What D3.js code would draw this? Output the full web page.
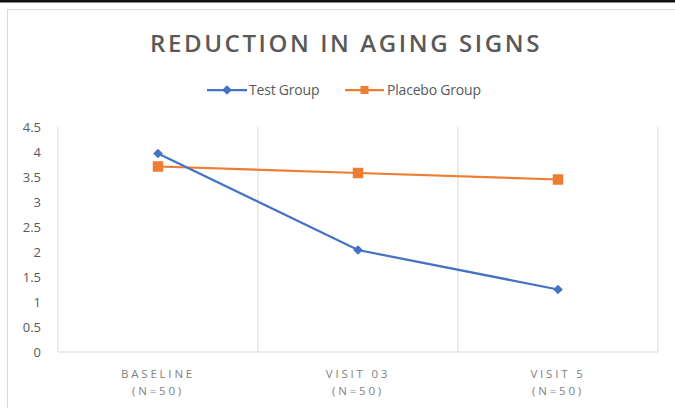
<!DOCTYPE html>
<html>
<head>
<meta charset="utf-8">
<script src="https://cdn.jsdelivr.net/npm/d3@7"></script>
<style>
  body { margin: 0; background: #fff; }
  text { font-family: "Open Sans", sans-serif; }
</style>
</head>
<body>
<div id="chart"></div>
<script>
var w = 675;
var h = 408;

var categories = ["BASELINE", "VISIT 03", "VISIT 5"];
var subLabels = ["(N=50)", "(N=50)", "(N=50)"];
var testGroup = [3.97, 2.04, 1.25];
var placeboGroup = [3.71, 3.58, 3.45];
var yTicks = [0, 0.5, 1, 1.5, 2, 2.5, 3, 3.5, 4, 4.5];

var margin = {left: 58, right: 17, top: 127, bottom: 56};

var svg = d3.select("#chart")
    .append("svg")
    .attr("width", w)
    .attr("height", h);

// top black rule and chart frame
svg.append("rect").attr("x", 0).attr("y", 0).attr("width", w).attr("height", 2.5).attr("fill", "#111");
svg.append("rect")
    .attr("x", 7.5).attr("y", 9.5)
    .attr("width", w).attr("height", h)
    .attr("fill", "none")
    .attr("stroke", "#d9d9d9");

var x = d3.scaleBand()
    .domain(categories)
    .range([margin.left, w - margin.right]);

var y = d3.scaleLinear()
    .domain([0, 4.5])
    .range([h - margin.bottom, margin.top]);

// vertical gridlines at category boundaries
var bounds = categories.map(function (c) { return x(c); }).concat([x(categories[categories.length - 1]) + x.bandwidth()]);
svg.selectAll("line.grid")
    .data(bounds)
    .enter()
    .append("line")
    .attr("class", "grid")
    .attr("x1", function (d) { return d; })
    .attr("x2", function (d) { return d; })
    .attr("y1", y(4.5))
    .attr("y2", y(0))
    .attr("stroke", "#d9d9d9")
    .attr("stroke-width", 1);

// x axis line
svg.append("line")
    .attr("x1", margin.left).attr("x2", w - margin.right)
    .attr("y1", y(0)).attr("y2", y(0))
    .attr("stroke", "#d9d9d9");

// y axis labels
var yAxis = d3.axisLeft(y).tickValues(yTicks).tickSize(0).tickPadding(17)
    .tickFormat(function (d) { return String(d); });
var gy = svg.append("g").attr("transform", "translate(" + margin.left + ",0)").call(yAxis);
gy.select(".domain").remove();
gy.selectAll("text")
    .style("font-family", "'Open Sans', sans-serif")
    .style("font-size", "13px")
    .attr("fill", "#595959");

// x category labels
var gx = svg.append("g");
gx.selectAll("text.cat")
    .data(categories)
    .enter()
    .append("text")
    .attr("x", function (d) { return x(d) + x.bandwidth() / 2; })
    .attr("y", 378)
    .attr("text-anchor", "middle")
    .attr("fill", "#7f7f7f")
    .style("font-size", "11.5px")
    .style("letter-spacing", "2.8px")
    .text(function (d) { return d; });
gx.selectAll("text.sub")
    .data(subLabels)
    .enter()
    .append("text")
    .attr("x", function (d, i) { return x(categories[i]) + x.bandwidth() / 2; })
    .attr("y", 395)
    .attr("text-anchor", "middle")
    .attr("fill", "#7f7f7f")
    .style("font-size", "11.5px")
    .style("letter-spacing", "2.8px")
    .text(function (d) { return d; });

// title
svg.append("text")
    .attr("x", 346)
    .attr("y", 52)
    .attr("text-anchor", "middle")
    .attr("fill", "#595959")
    .style("font-size", "24px")
    .style("font-weight", "600")
    .style("letter-spacing", "2.6px")
    .text("REDUCTION IN AGING SIGNS");

var line = d3.line()
    .x(function (d, i) { return x(categories[i]) + x.bandwidth() / 2; })
    .y(function (d) { return y(d); });

var blue = "#4472c4";
var orange = "#ed7d31";

svg.append("path").datum(placeboGroup).attr("d", line)
    .attr("fill", "none").attr("stroke", orange).attr("stroke-width", 2.25);
svg.append("path").datum(testGroup).attr("d", line)
    .attr("fill", "none").attr("stroke", blue).attr("stroke-width", 2.25);

var diamond = d3.symbol().type(d3.symbolDiamond2).size(60);
var square = d3.symbol().type(d3.symbolSquare).size(110);

svg.selectAll("path.sq")
    .data(placeboGroup)
    .enter()
    .append("path")
    .attr("class", "sq")
    .attr("d", square)
    .attr("transform", function (d, i) {
        return "translate(" + (x(categories[i]) + x.bandwidth() / 2) + "," + y(d) + ")";
    })
    .attr("fill", orange);

svg.selectAll("path.dm")
    .data(testGroup)
    .enter()
    .append("path")
    .attr("class", "dm")
    .attr("d", diamond)
    .attr("transform", function (d, i) {
        return "translate(" + (x(categories[i]) + x.bandwidth() / 2) + "," + y(d) + ")";
    })
    .attr("fill", blue);

// legend
var legend = [
    {name: "Test Group", color: blue, sym: diamond, x1: 207, x2: 247, tx: 249},
    {name: "Placebo Group", color: orange, sym: d3.symbol().type(d3.symbolSquare).size(64), x1: 345, x2: 384, tx: 387}
];
var lg = svg.selectAll("g.lg").data(legend).enter().append("g");
lg.append("line")
    .attr("x1", function (d) { return d.x1; })
    .attr("x2", function (d) { return d.x2; })
    .attr("y1", 90).attr("y2", 90)
    .attr("stroke", function (d) { return d.color; })
    .attr("stroke-width", 2.25);
lg.append("path")
    .attr("d", function (d) { return d.sym(); })
    .attr("transform", function (d) { return "translate(" + (d.x1 + d.x2) / 2 + ",90)"; })
    .attr("fill", function (d) { return d.color; });
lg.append("text")
    .attr("x", function (d) { return d.tx; })
    .attr("y", 95)
    .attr("fill", "#595959")
    .style("font-size", "14px")
    .style("letter-spacing", "-0.2px")
    .text(function (d) { return d.name; });
</script>
</body>
</html>
